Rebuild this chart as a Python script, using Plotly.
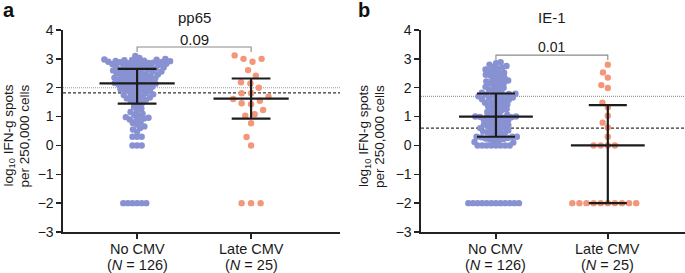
import numpy as np
import plotly.graph_objects as go

# ---------------- data ----------------
groups = ["No CMV", "Late CMV"]
group_n = ["(<i>N</i> = 126)", "(<i>N</i> = 25)"]
panel_titles = ["pp65", "IE-1"]
panel_letters = ["a", "b"]
p_values = ["0.09", "0.01"]
y_title_lines = ["log<sub>10</sub> IFN-g spots", "per 250,000 cells"]

pp65_no_cmv = [
    -2, -2, -2, -2, -2, -2,
    0, 0, 0,
    0.3, 0.3, 0.3,
    0.48, 0.55, 0.6, 0.66, 0.72, 0.78, 0.82, 0.88, 0.9, 0.93, 0.96, 0.98,
    1.02, 1.06, 1.1, 1.16, 1.22, 1.28, 1.34, 1.4,
    1.48, 1.52, 1.55, 1.58, 1.6, 1.63, 1.66, 1.68, 1.7, 1.72, 1.75, 1.77, 1.8, 1.82, 1.85, 1.87,
    1.89, 1.91, 1.93, 1.95, 1.97, 1.99, 2.01, 2.03, 2.05, 2.07, 2.09, 2.1, 2.12, 2.13, 2.14,
    2.16, 2.18, 2.2, 2.22, 2.23, 2.25, 2.27, 2.28, 2.3, 2.32, 2.33, 2.35, 2.36, 2.38, 2.4, 2.41,
    2.43, 2.44, 2.46, 2.47, 2.49, 2.5, 2.52, 2.53, 2.55, 2.56, 2.58, 2.59, 2.6, 2.62, 2.63, 2.64,
    2.66, 2.68, 2.69, 2.7, 2.72, 2.73, 2.75, 2.76, 2.78, 2.79, 2.8, 2.82, 2.83, 2.84, 2.85, 2.86,
    2.87, 2.88, 2.89, 2.9, 2.91, 2.92, 2.93, 2.94, 2.95, 2.96, 2.97, 2.98, 3.0, 3.03, 3.1,
]
pp65_late_cmv = [
    -2, -2, -2, 0.0, 0.29, 0.77, 1.03, 1.08, 1.23, 1.43, 1.46, 1.55, 1.61, 1.69,
    1.81, 1.81, 2.0, 2.15, 2.19, 2.42, 2.61, 2.9, 3.0, 3.0, 3.12,
]
ie1_no_cmv = [
    -2, -2, -2, -2, -2, -2, -2, -2, -2, -2, -2, -2,
    0, 0, 0, 0, 0, 0, 0, 0,
    0.1, 0.12, 0.15, 0.18, 0.2, 0.22, 0.24, 0.26, 0.28, 0.3, 0.3, 0.3,
    0.33, 0.36, 0.4, 0.42, 0.45, 0.48, 0.5, 0.52, 0.55, 0.58, 0.6, 0.62, 0.65, 0.68, 0.7, 0.72,
    0.75, 0.78, 0.8, 0.82, 0.85, 0.87, 0.9, 0.92, 0.94, 0.96, 0.98, 0.99, 1.0, 1.0, 1.0,
    1.03, 1.06, 1.1, 1.13, 1.16, 1.2, 1.23, 1.26, 1.3, 1.33, 1.36, 1.4, 1.42, 1.45, 1.48, 1.5,
    1.52, 1.55, 1.58, 1.6, 1.62, 1.64, 1.66, 1.68, 1.7, 1.72, 1.74, 1.76, 1.78, 1.79, 1.8,
    1.83, 1.86, 1.9, 1.93, 1.96, 2.0, 2.03, 2.06, 2.1, 2.14, 2.18, 2.2, 2.22, 2.25, 2.28, 2.3,
    2.35, 2.4, 2.42, 2.45, 2.5, 2.52, 2.55, 2.6, 2.63, 2.66, 2.7, 2.72, 2.75, 2.8, 2.85, 2.88,
]
ie1_late_cmv = [
    -2, -2, -2, -2, -2, -2, -2, -2, -2, -2,
    0, 0, 0, 0, 0.3, 0.62, 0.79, 1.03, 1.32, 1.48, 1.99, 2.09, 2.35, 2.53, 2.8,
]

# median and interquartile range per group
pp65_median = [2.15, 1.62]
pp65_q1 = [1.45, 0.93]
pp65_q3 = [2.65, 2.32]
ie1_median = [1.0, 0.0]
ie1_q1 = [0.3, -2.0]
ie1_q3 = [1.8, 1.4]

# reference thresholds (dotted, dashed)
pp65_dotted, pp65_dashed = 2.0, 1.82
ie1_dotted, ie1_dashed = 1.7, 0.6

# ---------------- styling ----------------
W, H = 685, 273
FONT = "Liberation Sans, Arial, Helvetica, sans-serif"
BLUE = "#8891d2"
ORANGE = "#f4967a"
TXT = "#1a1a1a"
Y_TOP_PX, Y_BOT_PX = 30, 232
y_ppu = (Y_BOT_PX - Y_TOP_PX) / 7.0

panels = [
    dict(no=pp65_no_cmv, late=pp65_late_cmv, med=pp65_median, q1=pp65_q1, q3=pp65_q3,
         dotted=pp65_dotted, dashed=pp65_dashed, x0=63, x1=340, xr=[-0.65, 1.78],
         br_y=3.41, br_tick=3.24, p_y=3.68, p_size=15, ytitle_x=(8.5, 23.5), letter_x=1,
         d_late=9.5),
    dict(no=ie1_no_cmv, late=ie1_late_cmv, med=ie1_median, q1=ie1_q1, q3=ie1_q3,
         dotted=ie1_dotted, dashed=ie1_dashed, x0=421, x1=685, xr=[-0.67, 1.69],
         br_y=3.13, br_tick=2.96, p_y=3.41, p_size=14, ytitle_x=(364, 379), letter_x=356,
         d_late=7.1),
]


def beeswarm(values, d_px, x_ppu):
    v = np.asarray(values, float)
    order = np.argsort(v, kind="stable")
    ypx = v * y_ppu
    px_list, py_list = [], []
    xs = np.zeros(len(v))
    for i in order:
        y = ypx[i]
        cands = [0.0]
        if px_list:
            P = np.array(px_list)
            Q = np.array(py_list)
            dy = np.abs(Q - y)
            near = dy < d_px
            dx = np.sqrt(d_px ** 2 - dy[near] ** 2)
            cands += list(P[near] + dx) + list(P[near] - dx)
        cands = sorted(cands, key=lambda c: (abs(c), c))
        chosen = cands[-1]
        for c in cands:
            if not px_list:
                chosen = c
                break
            dist2 = (np.array(px_list) - c) ** 2 + (np.array(py_list) - y) ** 2
            if np.all(dist2 >= d_px ** 2 - 1e-6):
                chosen = c
                break
        xs[i] = chosen
        px_list.append(chosen)
        py_list.append(y)
    return xs / x_ppu


fig = go.Figure()
annotations = []
shapes = []
layout_axes = {}

for k, p in enumerate(panels):
    xa = "x" if k == 0 else "x2"
    ya = "y" if k == 0 else "y2"
    x_ppu = (p["x1"] - p["x0"]) / (p["xr"][1] - p["xr"][0])

    # points
    for gi, (vals, col, d) in enumerate([(p["no"], BLUE, 4.6), (p["late"], ORANGE, p["d_late"])]):
        offs = beeswarm(vals, d, x_ppu)
        fig.add_trace(go.Scatter(
            x=gi + offs, y=vals, mode="markers", xaxis=xa, yaxis=ya,
            marker=dict(size=6.4, color=col, line=dict(width=0)),
            showlegend=False, hoverinfo="skip"))

    # median + IQR bars
    ex, ey = [], []
    for gi in range(2):
        m, a, b = p["med"][gi], p["q1"][gi], p["q3"][gi]
        ex += [gi - 0.33, gi + 0.33, None, gi - 0.17, gi + 0.17, None,
               gi - 0.17, gi + 0.17, None, gi, gi, None]
        ey += [m, m, None, a, a, None, b, b, None, a, b, None]
    fig.add_trace(go.Scatter(x=ex, y=ey, mode="lines", xaxis=xa, yaxis=ya,
                             line=dict(color="#1c1c1c", width=2.2),
                             showlegend=False, hoverinfo="skip"))

    # bracket
    fig.add_trace(go.Scatter(x=[0, 0, 1, 1], y=[p["br_tick"], p["br_y"], p["br_y"], p["br_tick"]],
                             mode="lines", xaxis=xa, yaxis=ya,
                             line=dict(color="#8a8a8a", width=1.1),
                             showlegend=False, hoverinfo="skip"))

    # threshold lines
    xref_dom = xa + " domain"
    shapes.append(dict(type="line", xref=xref_dom, yref=ya, x0=0, x1=1,
                       y0=p["dotted"], y1=p["dotted"], layer="below",
                       line=dict(color="#9a9a9a", width=1.1, dash="1px,1px")))
    shapes.append(dict(type="line", xref=xref_dom, yref=ya, x0=0, x1=1,
                       y0=p["dashed"], y1=p["dashed"], layer="below",
                       line=dict(color="#333333", width=1.1, dash="3px,2px")))

    dom = [p["x0"] / W, p["x1"] / W]
    layout_axes["xaxis" if k == 0 else "xaxis2"] = dict(
        domain=dom, range=p["xr"], anchor=ya, showgrid=False, zeroline=False,
        showline=True, linecolor="#222", linewidth=1.6, automargin=False,
        tickmode="array", tickvals=[0, 1], ticks="outside",
        ticklen=5, tickwidth=1.5, tickcolor="#222", showticklabels=False, fixedrange=True)
    layout_axes["yaxis" if k == 0 else "yaxis2"] = dict(
        domain=[1 - Y_BOT_PX / H, 1 - Y_TOP_PX / H], range=[-3, 4], anchor=xa,
        showgrid=False, zeroline=False, showline=True, linecolor="#222", linewidth=1.6,
        automargin=False,
        tickmode="array", tickvals=[-3, -2, -1, 0, 1, 2, 3, 4],
        ticks="outside", ticklen=5, tickwidth=1.5, tickcolor="#222",
        tickfont=dict(size=14, color=TXT, family=FONT), fixedrange=True)

    # category labels (two lines)
    for gi in range(2):
        annotations.append(dict(x=gi, xref=xa, y=1 - 249 / H, yref="paper", text=groups[gi],
                                showarrow=False, font=dict(size=14.5, color=TXT, family=FONT),
                                xanchor="center", yanchor="middle"))
        annotations.append(dict(x=gi, xref=xa, y=1 - 265 / H, yref="paper", text=group_n[gi],
                                showarrow=False, font=dict(size=14.5, color=TXT, family=FONT),
                                xanchor="center", yanchor="middle"))
    # panel title
    annotations.append(dict(x=0.5, xref=xa, y=1 - 18 / H, yref="paper", text=panel_titles[k],
                            showarrow=False, font=dict(size=15, color=TXT, family=FONT),
                            xanchor="center", yanchor="middle"))
    # p value
    annotations.append(dict(x=0.5, xref=xa, y=p["p_y"], yref=ya, text=p_values[k],
                            showarrow=False, font=dict(size=p["p_size"], color=TXT, family=FONT),
                            xanchor="center", yanchor="middle"))
    # y title (two rotated lines)
    for li, line in enumerate(y_title_lines):
        annotations.append(dict(x=p["ytitle_x"][li] / W, xref="paper", y=1 - 136 / H, yref="paper",
                                text=line, textangle=-90,
                                showarrow=False, font=dict(size=13.5, color=TXT, family=FONT),
                                xanchor="center", yanchor="middle"))
    # panel letter
    annotations.append(dict(x=p["letter_x"] / W, xref="paper", y=1 - 10 / H, yref="paper",
                            text="<b>%s</b>" % panel_letters[k], showarrow=False,
                            font=dict(size=20, color="#111", family=FONT),
                            xanchor="left", yanchor="middle"))

fig.update_layout(
    width=W, height=H, margin=dict(l=0, r=0, t=0, b=0, pad=0, autoexpand=False),
    paper_bgcolor="white", plot_bgcolor="white",
    font=dict(family=FONT, color=TXT),
    annotations=annotations, shapes=shapes, showlegend=False,
    **layout_axes,
)

fig.write_html("out.html", config={"displayModeBar": False, "staticPlot": True},
               post_script="document.body.style.margin='0px';document.body.style.padding='0px';")
